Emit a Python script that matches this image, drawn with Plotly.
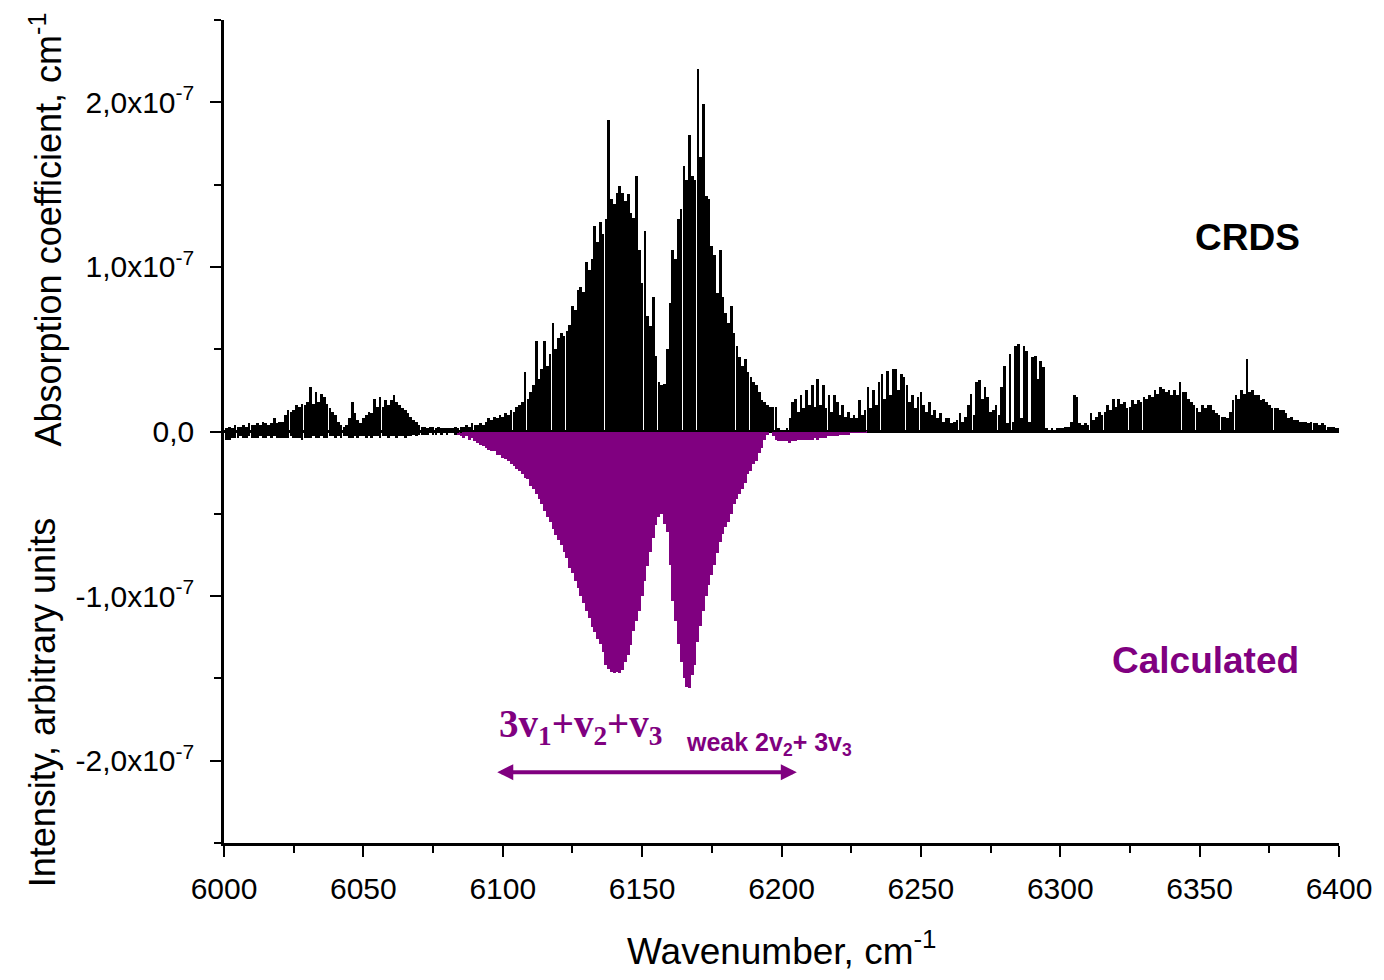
import plotly.graph_objects as go

# ---------------- data (values in units of 1e-7) ----------------
crds_start = 6001
crds = [
    0.02, 0.03, 0.02, 0.04, 0.03, 0.03, 0.04, 0.03, 0.05, 0.04,   # 6001-6010
    0.04, 0.05, 0.04, 0.06, 0.05, 0.04, 0.05, 0.08, 0.05, 0.06,   # 6011-6020
    0.06, 0.10, 0.13, 0.12, 0.13, 0.16, 0.15, 0.17, 0.16, 0.18,   # 6021-6030
    0.27, 0.17, 0.24, 0.18, 0.23, 0.21, 0.17, 0.14, 0.12, 0.10,   # 6031-6040
    0.06, 0.04, 0.03, 0.04, 0.08, 0.18, 0.11, 0.07, 0.05, 0.08,   # 6041-6050
    0.10, 0.12, 0.11, 0.20, 0.15, 0.21, 0.15, 0.19, 0.16, 0.19,   # 6051-6060
    0.22, 0.18, 0.16, 0.14, 0.13, 0.11, 0.09, 0.07, 0.06, 0.04,   # 6061-6070
    0.03, 0.03, 0.02, 0.03, 0.03, 0.02, 0.03, 0.02, 0.02, 0.02,   # 6071-6080
    0.02, 0.02, 0.03, 0.02, 0.03, 0.03, 0.04, 0.03, 0.05, 0.04,   # 6081-6090
    0.04, 0.05, 0.04, 0.06, 0.08, 0.07, 0.09, 0.08, 0.10, 0.09,   # 6091-6100
    0.11, 0.10, 0.13, 0.12, 0.15, 0.16, 0.18, 0.36, 0.20, 0.24,   # 6101-6110
    0.28, 0.55, 0.32, 0.38, 0.55, 0.40, 0.47, 0.66, 0.50, 0.57,   # 6111-6120
    0.60, 0.58, 0.61, 0.65, 0.76, 0.74, 0.86, 0.88, 0.85, 1.03,   # 6121-6130
    0.98, 1.05, 1.25, 1.15, 1.27, 1.20, 1.29, 1.89, 1.41, 1.38,   # 6131-6140
    1.45, 1.49, 1.45, 1.40, 1.44, 1.33, 1.30, 1.55, 1.10, 0.90,   # 6141-6150
    1.22, 0.70, 0.64, 0.82, 0.46, 0.30, 0.28, 0.29, 0.50, 0.78,   # 6151-6160
    1.10, 1.05, 1.29, 1.35, 1.61, 1.53, 1.80, 1.55, 1.53, 2.20,   # 6161-6170
    1.67, 1.99, 1.43, 1.41, 1.13, 1.07, 0.84, 1.10, 0.82, 0.72,   # 6171-6180
    0.66, 0.76, 0.60, 0.52, 0.45, 0.40, 0.44, 0.36, 0.33, 0.30,   # 6181-6190
    0.28, 0.24, 0.19, 0.18, 0.16, 0.15, 0.15, 0.15, 0.02, 0.01,   # 6191-6200
    0.01, 0.02, 0.08, 0.18, 0.20, 0.12, 0.22, 0.14, 0.25, 0.16,   # 6201-6210
    0.28, 0.15, 0.32, 0.16, 0.28, 0.14, 0.22, 0.12, 0.22, 0.18,   # 6211-6220
    0.10, 0.16, 0.09, 0.12, 0.08, 0.10, 0.08, 0.19, 0.10, 0.13,   # 6221-6230
    0.27, 0.14, 0.25, 0.16, 0.30, 0.35, 0.20, 0.37, 0.22, 0.38,   # 6231-6240
    0.38, 0.25, 0.35, 0.33, 0.28, 0.18, 0.22, 0.14, 0.21, 0.24,   # 6241-6250
    0.16, 0.12, 0.18, 0.10, 0.13, 0.08, 0.11, 0.06, 0.08, 0.08,   # 6251-6260
    0.05, 0.06, 0.07, 0.11, 0.06, 0.09, 0.16, 0.23, 0.10, 0.30,   # 6261-6270
    0.31, 0.20, 0.27, 0.21, 0.12, 0.13, 0.16, 0.10, 0.27, 0.40,   # 6271-6280
    0.05, 0.47, 0.06, 0.52, 0.53, 0.08, 0.52, 0.49, 0.06, 0.45,   # 6281-6290
    0.46, 0.32, 0.43, 0.39, 0.02, 0.01, 0.02, 0.01, 0.02, 0.02,   # 6291-6300
    0.02, 0.03, 0.03, 0.06, 0.22, 0.21, 0.05, 0.04, 0.05, 0.04,   # 6301-6310
    0.11, 0.07, 0.09, 0.12, 0.10, 0.12, 0.16, 0.13, 0.20, 0.15,   # 6311-6320
    0.20, 0.17, 0.18, 0.14, 0.15, 0.19, 0.17, 0.19, 0.18, 0.21,   # 6321-6330
    0.20, 0.22, 0.21, 0.25, 0.23, 0.27, 0.26, 0.24, 0.25, 0.22,   # 6331-6340
    0.25, 0.22, 0.30, 0.24, 0.24, 0.20, 0.18, 0.16, 0.14, 0.12,   # 6341-6350
    0.16, 0.14, 0.16, 0.16, 0.13, 0.11, 0.10, 0.09, 0.09, 0.08,   # 6351-6360
    0.12, 0.19, 0.22, 0.20, 0.25, 0.23, 0.44, 0.24, 0.25, 0.22,   # 6361-6370
    0.22, 0.19, 0.20, 0.18, 0.16, 0.14, 0.14, 0.14, 0.13, 0.13,   # 6371-6380
    0.11, 0.08, 0.09, 0.07, 0.07, 0.06, 0.06, 0.06, 0.05, 0.06,   # 6381-6390
    0.05, 0.05, 0.04, 0.05, 0.04, 0.03, 0.03, 0.03, 0.02, 0.02,   # 6391-6400
]

# noise of the CRDS trace below zero (6001-6090)
crds_low = [
    -0.05, -0.05, -0.04, -0.04, -0.04, -0.03, -0.04, -0.04, -0.03, -0.04,
    -0.04, -0.04, -0.03, -0.04, -0.04, -0.03, -0.04, -0.03, -0.04, -0.04,
    -0.04, -0.04, -0.04, -0.03, -0.04, -0.04, -0.04, -0.05, -0.04, -0.04,
    -0.04, -0.03, -0.04, -0.04, -0.03, -0.04, -0.04, -0.03, -0.03, -0.04,
    -0.03, -0.04, -0.03, -0.03, -0.04, -0.04, -0.03, -0.04, -0.03, -0.03,
    -0.04, -0.03, -0.04, -0.03, -0.03, -0.04, -0.03, -0.03, -0.04, -0.03,
    -0.03, -0.04, -0.03, -0.03, -0.04, -0.03, -0.03, -0.02, -0.03, -0.02,
    -0.02, -0.02, -0.02, -0.01, -0.02, -0.02, -0.01, -0.02, -0.01, -0.02,
    -0.01, -0.01, -0.02, -0.01, -0.01, 0.0, 0.0, 0.0, 0.0, 0.0,
]

calc_start = 6084
calc = [
    -0.02, -0.03, -0.04, -0.03, -0.05, -0.04, -0.06,                        # 6084-6090
    -0.07, -0.08, -0.09, -0.10, -0.11, -0.12, -0.12, -0.14, -0.14, -0.16,   # 6091-6100
    -0.17, -0.18, -0.20, -0.21, -0.23, -0.24, -0.26, -0.28, -0.29, -0.33,   # 6101-6110
    -0.35, -0.38, -0.41, -0.44, -0.48, -0.52, -0.55, -0.59, -0.63, -0.66,   # 6111-6120
    -0.69, -0.73, -0.77, -0.83, -0.86, -0.91, -0.95, -1.00, -1.04, -1.09,   # 6121-6130
    -1.13, -1.19, -1.22, -1.26, -1.29, -1.34, -1.42, -1.44, -1.46, -1.47,   # 6131-6140
    -1.46, -1.47, -1.45, -1.40, -1.36, -1.30, -1.21, -1.15, -1.09, -1.00,   # 6141-6150
    -0.91, -0.82, -0.73, -0.65, -0.57, -0.52, -0.50, -0.56, -0.61, -0.81,   # 6151-6160
    -1.03, -1.15, -1.29, -1.40, -1.50, -1.55, -1.56, -1.48, -1.42, -1.28,   # 6161-6170
    -1.18, -1.09, -1.00, -0.93, -0.87, -0.81, -0.74, -0.67, -0.62, -0.58,   # 6171-6180
    -0.55, -0.50, -0.44, -0.41, -0.38, -0.35, -0.31, -0.26, -0.24, -0.20,   # 6181-6190
    -0.18, -0.13, -0.10, -0.05, -0.02, 0.00, -0.03, -0.05, -0.06, -0.06,    # 6191-6200
    -0.06, -0.06, -0.07, -0.06, -0.06, -0.05, -0.05, -0.05, -0.05, -0.05,   # 6201-6210
    -0.05, -0.04, -0.05, -0.04, -0.04, -0.04, -0.03, -0.03, -0.03, -0.03,   # 6211-6220
    -0.02, -0.02, -0.02, -0.02, -0.01, -0.01, -0.01, -0.01, -0.01, -0.01,   # 6221-6230
]

x_ticks = [6000, 6050, 6100, 6150, 6200, 6250, 6300, 6350, 6400]
y_tickvals = [-2e-7, -1e-7, 0.0, 1e-7, 2e-7]
y_ticktext = ["-2,0x10<sup>-7</sup>", "-1,0x10<sup>-7</sup>", "0,0",
              "1,0x10<sup>-7</sup>", "2,0x10<sup>-7</sup>"]

SCALE = 1e-7
PURPLE = "#800080"

crds_x = [crds_start + i for i in range(len(crds))]
low_full = crds_low + [0.0] * (len(crds) - len(crds_low))
crds_base = [l * SCALE for l in low_full]
crds_len = [(h - l) * SCALE for h, l in zip(crds, low_full)]

calc_x = [calc_start + i for i in range(len(calc))]
calc_y = [v * SCALE for v in calc]

fig = go.Figure()
fig.add_trace(go.Bar(x=calc_x, y=calc_y, width=1.0,
                     marker=dict(color=PURPLE, line=dict(width=0)),
                     hoverinfo="skip", showlegend=False))
fig.add_trace(go.Bar(x=crds_x, y=crds_len, base=crds_base, width=0.96,
                     marker=dict(color="black", line=dict(width=0)),
                     hoverinfo="skip", showlegend=False))

font_main = "Liberation Sans, Arial, sans-serif"

fig.update_layout(
    width=1384, height=980,
    margin=dict(l=224, r=42, t=20, b=137),
    paper_bgcolor="white", plot_bgcolor="white",
    barmode="overlay", bargap=0,
    font=dict(family=font_main, color="black"),
    showlegend=False,
)
fig.update_xaxes(
    range=[6000, 6400], tickvals=x_ticks, ticktext=[str(t) for t in x_ticks],
    showgrid=False, zeroline=False,
    showline=True, linecolor="black", linewidth=2.5,
    ticks="outside", ticklen=11, tickwidth=2, tickcolor="black",
    ticklabelstandoff=6,
    tickfont=dict(size=30, family=font_main, color="black"),
    minor=dict(dtick=25, tick0=6000, ticks="outside", ticklen=7,
               tickwidth=2, tickcolor="black", showgrid=False),
)
fig.update_yaxes(
    range=[-2.5e-7, 2.5e-7], tickvals=y_tickvals, ticktext=y_ticktext,
    showgrid=False, zeroline=True, zerolinecolor="black", zerolinewidth=3,
    showline=True, linecolor="black", linewidth=2.5,
    ticks="outside", ticklen=11, tickwidth=2, tickcolor="black",
    ticklabelstandoff=10,
    tickfont=dict(size=30, family=font_main, color="black"),
    minor=dict(dtick=0.5e-7, tick0=0, ticks="outside", ticklen=7,
               tickwidth=2, tickcolor="black", showgrid=False),
)

annotations = [
    dict(text="Wavenumber, cm<sup>-1</sup>", xref="paper", yref="paper",
         x=0.5, y=-0.128, xanchor="center", yanchor="middle", showarrow=False,
         font=dict(size=37, family=font_main, color="black")),
    dict(text="Absorption coefficient, cm<sup>-1</sup>", xref="paper", yref="paper",
         x=-0.16, y=0.745, textangle=-90, xanchor="center", yanchor="middle",
         showarrow=False, font=dict(size=36, family=font_main, color="black")),
    dict(text="Intensity, arbitrary units", xref="paper", yref="paper",
         x=-0.163, y=0.17, textangle=-90, xanchor="center", yanchor="middle",
         showarrow=False, font=dict(size=36, family=font_main, color="black")),
    dict(text="<b>CRDS</b>", x=6367, y=1.18e-7, xref="x", yref="y",
         showarrow=False, font=dict(size=37, family=font_main, color="black")),
    dict(text="<b>Calculated</b>", x=6352, y=-1.39e-7, xref="x", yref="y",
         showarrow=False, font=dict(size=37, family=font_main, color=PURPLE)),
    dict(text="<b>3v<sub>1</sub>+v<sub>2</sub>+v<sub>3</sub></b>", x=6098, y=-1.79e-7,
         xref="x", yref="y", xanchor="left", yanchor="middle", showarrow=False,
         font=dict(size=39, family="Liberation Serif, Times New Roman, serif", color=PURPLE)),
    dict(text="<b>weak 2v<sub>2</sub>+ 3v<sub>3</sub></b>", x=6165, y=-1.90e-7,
         xref="x", yref="y", xanchor="left", yanchor="middle", showarrow=False,
         font=dict(size=25, family=font_main, color=PURPLE)),
    dict(text="", x=6205.5, y=-2.07e-7, ax=6097.5, ay=-2.07e-7,
         xref="x", yref="y", axref="x", ayref="y", showarrow=True,
         arrowhead=2, startarrowhead=2, arrowside="end+start",
         arrowsize=0.8, startarrowsize=0.8, arrowwidth=4, arrowcolor=PURPLE),
]
fig.update_layout(annotations=annotations)

fig.write_html("out.html")
